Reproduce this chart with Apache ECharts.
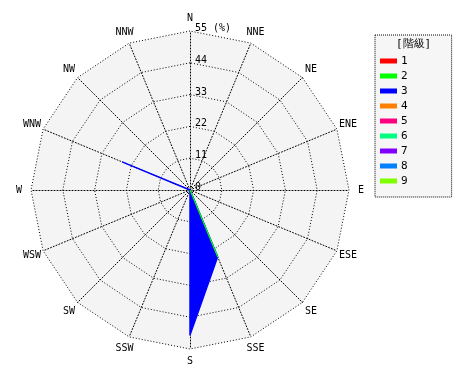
<!DOCTYPE html>
<html>
<head>
<meta charset="utf-8">
<script src="https://cdn.jsdelivr.net/npm/echarts@6/dist/echarts.min.js"></script>
<style>
html,body{margin:0;padding:0;background:#fff;}
#chart{width:470px;height:380px;}
</style>
</head>
<body>
<div id="chart"></div>
<script>
// Directions in counterclockwise drawing order (radar goes counterclockwise from top)
var directions = ['N','NNW','NW','WNW','W','WSW','SW','SSW','S','SSE','SE','ESE','E','ENE','NE','NNE'];
var classNames = ['1','2','3','4','5','6','7','8','9'];
var classColors = ['#ff0000','#00ff00','#0000ff','#ff8000','#ff0080','#00ff80','#8000ff','#0080ff','#80ff00'];
var maxValue = 55;
var tickStep = 11;
//                 N  NNW NW WNW  W WSW SW SSW  S   SSE  SE ESE E ENE NE NNE
var class1 = [0, 0, 0, 0, 0, 0, 0, 0, 0, 0, 0, 0, 0, 0, 0, 0];
var class2 = [0, 0, 0, 0, 0, 0, 0, 0, 0, 25, 0, 0, 0, 0, 0, 0];
var class3 = [0, 0, 0, 25.2, 0, 0, 0, 0, 50.2, 25, 0, 0, 0, 0, 0, 0];
var class4 = [0, 0, 0, 0, 0, 0, 0, 0, 0, 0, 0, 0, 0, 0, 0, 0];
var class5 = [0, 0, 0, 0, 0, 0, 0, 0, 0, 0, 0, 0, 0, 0, 0, 0];
var class6 = [0, 0, 0, 0, 0, 0, 0, 0, 0, 0, 0, 0, 0, 0, 0, 0];
var class7 = [0, 0, 0, 0, 0, 0, 0, 0, 0, 0, 0, 0, 0, 0, 0, 0];
var class8 = [0, 0, 0, 0, 0, 0, 0, 0, 0, 0, 0, 0, 0, 0, 0, 0];
var class9 = [0, 0, 0, 0, 0, 0, 0, 0, 0, 0, 0, 0, 0, 0, 0, 0];
var classValues = [class1, class2, class3, class4, class5, class6, class7, class8, class9];
// drawing order (later on top)
var drawOrder = [0, 2, 1, 3, 4, 5, 6, 7, 8];

var font = '"DejaVu Sans Mono", monospace';
var chart = echarts.init(document.getElementById('chart'), null, {renderer: 'canvas'});

var indicators = directions.map(function (d, i) {
  var o = {name: d, min: 0, max: maxValue};
  if (i === 0) {
    o.axisLabel = {
      show: true,
      color: '#000',
      fontFamily: font,
      fontSize: 10,
      lineHeight: 5,
      margin: -5,
      align: 'left',
      verticalAlign: 'bottom',
      formatter: function (v) { return v === maxValue ? v + ' (%)' : String(v); }
    };
  }
  return o;
});

var series = drawOrder.map(function (ci, k) {
  return {
    type: 'radar',
    name: classNames[ci],
    symbol: 'none',
    silent: true,
    z: 2 + k,
    lineStyle: {color: classColors[ci], width: ci === 2 ? 1.5 : 1.2},
    areaStyle: {color: classColors[ci], opacity: 1},
    itemStyle: {color: classColors[ci]},
    data: [{value: classValues[ci], name: classNames[ci]}]
  };
});

chart.setOption({
  animation: false,
  backgroundColor: '#fff',
  title: {
    text: '[階級]',
    left: 396,
    top: 39,
    textStyle: {fontFamily: font, fontSize: 11, fontWeight: 'normal', color: '#000'},
    padding: 0
  },
  legend: {
    orient: 'vertical',
    left: 375,
    top: 35,
    data: classNames,
    icon: 'rect',
    itemWidth: 17,
    itemHeight: 5,
    itemGap: 3,
    selectedMode: false,
    padding: [20, 44, 10, 5],
    borderColor: '#000',
    borderWidth: 1,
    borderType: 'dotted',
    backgroundColor: '#f6f6f6',
    textStyle: {fontFamily: font, fontSize: 11, color: '#000', lineHeight: 12, padding: [0,0,0,-1]}
  },
  radar: {
    center: [190, 190],
    radius: 159,
    startAngle: 90,
    shape: 'polygon',
    splitNumber: maxValue / tickStep,
    indicator: indicators,
    nameGap: 12,
    axisName: {color: '#000', fontFamily: font, fontSize: 10, align: 'center', verticalAlign: 'middle'},
    axisLabel: {show: false},
    axisLine: {lineStyle: {color: '#000', type: [1, 2], width: 1}},
    axisTick: {show: false},
    splitLine: {lineStyle: {color: '#000', type: [1, 2], width: 1}},
    splitArea: {show: true, areaStyle: {color: ['#f4f4f4']}}
  },
  series: series
});
</script>
</body>
</html>
